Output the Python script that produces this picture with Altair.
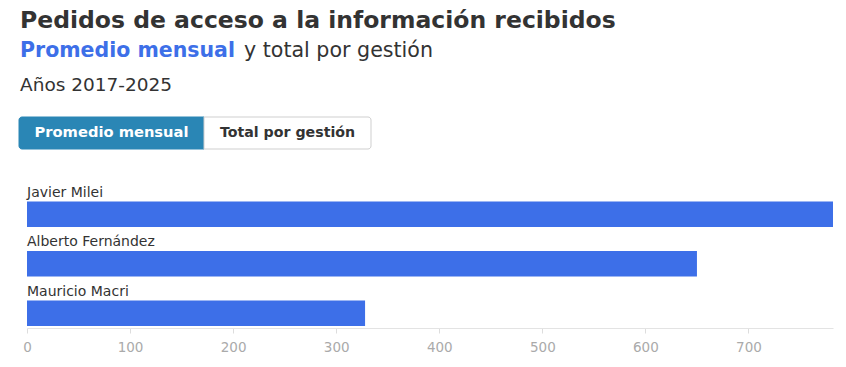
import altair as alt
import pandas as pd

# Data
presidents = ["Javier Milei", "Alberto Fernández", "Mauricio Macri"]
monthly_avg = [782, 650, 328]
x_ticks = [0, 100, 200, 300, 400, 500, 600, 700]

title_text = ["Pedidos de acceso a la información recibidos"]
subtitle_bold = ["Promedio mensual"]
subtitle_rest = ["y total por gestión"]
years_text = ["Años 2017-2025"]
button_labels = ["Promedio mensual", "Total por gestión"]

FONT = "DejaVu Sans"
BLUE = "#3d6fe8"
DARK = "#333333"
TEAL = "#2a86b5"

df = pd.DataFrame({"gestion": presidents, "promedio": monthly_avg})
one = pd.DataFrame({"k": [0]})

x_scale = alt.Scale(domain=[0, max(monthly_avg)], nice=False, zero=True)
y_scale = alt.Scale(domain=presidents, paddingInner=0.485, paddingOuter=0.5, align=1)

bars = alt.Chart(df).mark_bar(color=BLUE).encode(
    x=alt.X("promedio:Q", scale=x_scale,
            axis=alt.Axis(values=x_ticks, title=None, grid=False, offset=2,
                          domainColor="#e3e3e3", tickColor="#dddddd", tickSize=5,
                          labelColor="#aaaaaa", labelFontSize=13.5, labelFont=FONT,
                          labelPadding=7, labelFlush=False)),
    y=alt.Y("gestion:N", scale=y_scale, axis=None, sort=presidents),
    tooltip=["gestion", "promedio"],
)

labels = alt.Chart(df).mark_text(align="left", baseline="alphabetic", dy=-17.5,
                                 font=FONT, fontSize=14, color=DARK).encode(
    x=alt.value(0),
    y=alt.Y("gestion:N", scale=y_scale, axis=None, sort=presidents),
    text="gestion:N",
)

title = alt.Chart(one).mark_text(align="left", baseline="alphabetic", font=FONT,
                                 fontSize=23.5, fontWeight="bold", color=DARK,
                                 text=title_text[0]).encode(
    x=alt.value(-7), y=alt.value(-124.5))

sub1 = alt.Chart(one).mark_text(align="left", baseline="alphabetic", font=FONT,
                                fontSize=20.5, fontWeight="bold", color=BLUE,
                                text=subtitle_bold[0]).encode(
    x=alt.value(-7), y=alt.value(-95))

sub2 = alt.Chart(one).mark_text(align="left", baseline="alphabetic", font=FONT,
                                fontSize=20.6, color=DARK,
                                text=subtitle_rest[0]).encode(
    x=alt.value(217), y=alt.value(-95))

years = alt.Chart(one).mark_text(align="left", baseline="alphabetic", font=FONT,
                                 fontSize=18.5, color=DARK,
                                 text=years_text[0]).encode(
    x=alt.value(-7), y=alt.value(-61))

btn1 = alt.Chart(one).mark_rect(fill=TEAL, stroke=TEAL, strokeWidth=1,
                                cornerRadiusTopLeft=3, cornerRadiusBottomLeft=3).encode(
    x=alt.value(-8), x2=alt.value(177), y=alt.value(-35), y2=alt.value(-3))

btn2 = alt.Chart(one).mark_rect(fill="white", stroke="#cfcfcf", strokeWidth=1,
                                cornerRadiusTopRight=3, cornerRadiusBottomRight=3).encode(
    x=alt.value(177), x2=alt.value(344), y=alt.value(-35), y2=alt.value(-3))

btn1_text = alt.Chart(one).mark_text(align="center", baseline="middle", font=FONT,
                                     fontSize=14.7, fontWeight="bold", color="white",
                                     text=button_labels[0]).encode(
    x=alt.value(84.5), y=alt.value(-19))

btn2_text = alt.Chart(one).mark_text(align="center", baseline="middle", font=FONT,
                                     fontSize=14.2, fontWeight="bold", color=DARK,
                                     text=button_labels[1]).encode(
    x=alt.value(260.5), y=alt.value(-19))

chart = alt.layer(
    title, sub1, sub2, years, btn1, btn2, btn1_text, btn2_text, bars, labels
).properties(
    width=806, height=174,
    autosize=alt.AutoSizeParams(type="none"),
    padding={"left": 19, "top": 144, "right": 5, "bottom": 30},
).configure_view(stroke=None)

chart.save("out.html", embed_options={"renderer": "svg", "actions": False})
